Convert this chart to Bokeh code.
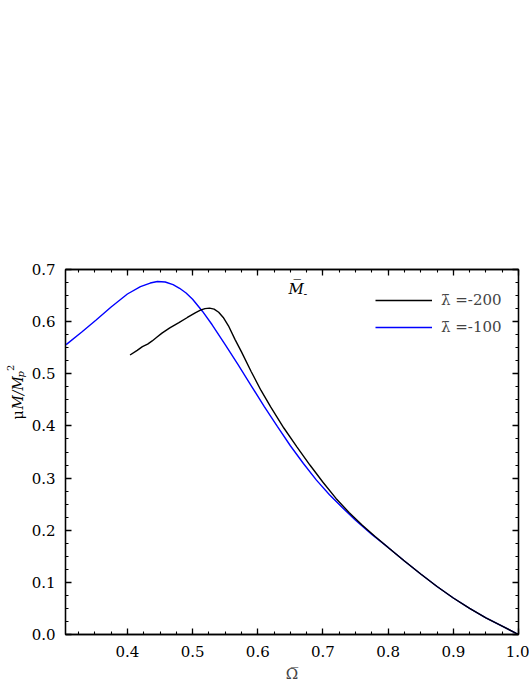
import math
import numpy as np
from bokeh.plotting import figure
from bokeh.layouts import row
from bokeh.models import (LinearAxis, FixedTicker, NumeralTickFormatter, CustomJSTickFormatter,
                          Label, Legend, LegendItem)
from bokeh.embed import file_html
from bokeh.resources import INLINE

# ---- data ----
omega_l200 = [0.404, 0.415, 0.423, 0.431, 0.438, 0.445, 0.453, 0.465, 0.479, 0.492, 0.504, 0.512,
              0.519, 0.526, 0.533, 0.540, 0.547, 0.555, 0.565, 0.575, 0.590, 0.605, 0.620, 0.640,
              0.660, 0.680, 0.700, 0.720, 0.740, 0.760, 0.780, 0.800, 0.825, 0.850, 0.875, 0.900,
              0.925, 0.950, 0.975, 1.000]
mass_l200 = [0.536, 0.545, 0.552, 0.557, 0.563, 0.570, 0.578, 0.588, 0.598, 0.608, 0.617, 0.622,
             0.625, 0.626, 0.624, 0.618, 0.608, 0.592, 0.566, 0.542, 0.504, 0.468, 0.436, 0.396,
             0.360, 0.325, 0.292, 0.261, 0.234, 0.210, 0.188, 0.167, 0.141, 0.116, 0.092, 0.070,
             0.050, 0.032, 0.016, 0.000]

omega_l100 = [0.306, 0.330, 0.352, 0.375, 0.400, 0.420, 0.435, 0.446, 0.458, 0.470, 0.480, 0.490,
              0.500, 0.515, 0.530, 0.550, 0.570, 0.590, 0.610, 0.630, 0.650, 0.670, 0.690, 0.710,
              0.730, 0.750, 0.775, 0.800, 0.825, 0.850, 0.875, 0.900, 0.925, 0.950, 0.975, 1.000]
mass_l100 = [0.556, 0.580, 0.603, 0.628, 0.653, 0.667, 0.674, 0.677, 0.676, 0.671, 0.664, 0.655,
             0.643, 0.620, 0.594, 0.556, 0.517, 0.477, 0.437, 0.399, 0.362, 0.328, 0.296, 0.268,
             0.243, 0.219, 0.192, 0.167, 0.141, 0.116, 0.092, 0.070, 0.050, 0.032, 0.016, 0.000]

series_labels = ["\u03bb\u0304 =-200", "\u03bb\u0304 =-100"]
series_colors = ["#000000", "#0000ff"]

x_ticks = [0.4, 0.5, 0.6, 0.7, 0.8, 0.9, 1.0]
y_ticks = [0.0, 0.1, 0.2, 0.3, 0.4, 0.5, 0.6, 0.7]
x_minor = [round(v, 3) for v in np.arange(0.325, 1.0001, 0.025)]
y_minor = [round(v, 3) for v in np.arange(0.0, 0.7001, 0.025)]

FONT = "DejaVu Serif"

H = 685
STRIP_W = 28

p = figure(width=529 - STRIP_W, height=H, x_range=(0.305, 1.0), y_range=(0.0, 0.7),
           output_backend="svg", toolbar_location=None,
           min_border_left=63 - STRIP_W, min_border_right=11, min_border_top=269, min_border_bottom=50)
p.background_fill_color = "white"
p.border_fill_color = "white"
p.grid.visible = False
p.outline_line_color = "black"
p.outline_line_width = 1.3


def style_axis(ax, ticks, minor, show_labels):
    ax.ticker = FixedTicker(ticks=ticks, minor_ticks=minor)
    ax.major_tick_in = 6
    ax.major_tick_out = 0
    ax.minor_tick_in = 3
    ax.minor_tick_out = 0
    ax.major_tick_line_width = 1.3
    ax.minor_tick_line_width = 1.1
    ax.major_tick_line_color = "black"
    ax.minor_tick_line_color = "black"
    ax.axis_line_color = "black"
    ax.axis_line_width = 1.3
    ax.major_label_text_font = FONT
    ax.major_label_text_font_size = "15px"
    ax.major_label_text_color = "black"
    if show_labels:
        ax.formatter = NumeralTickFormatter(format="0.0")
    else:
        ax.formatter = CustomJSTickFormatter(code="return ''")


style_axis(p.xaxis[0], x_ticks, x_minor, True)
style_axis(p.yaxis[0], y_ticks, y_minor, True)
p.xaxis[0].major_label_standoff = 11
p.yaxis[0].major_label_standoff = 10
p.xaxis[0].axis_label = "\u03a9\u0305"
p.xaxis[0].axis_label_text_font = FONT
p.xaxis[0].axis_label_text_font_style = "normal"
p.xaxis[0].axis_label_text_font_size = "15px"
p.xaxis[0].axis_label_standoff = 5

top = LinearAxis()
style_axis(top, x_ticks, x_minor, False)
p.add_layout(top, "above")
right = LinearAxis()
style_axis(right, y_ticks, y_minor, False)
p.add_layout(right, "right")

r_blue = p.line(omega_l100, mass_l100, line_color=series_colors[1], line_width=1.4)
r_black = p.line(omega_l200, mass_l200, line_color=series_colors[0], line_width=1.4)

legend = Legend(items=[LegendItem(label=series_labels[0], renderers=[r_black]),
                       LegendItem(label=series_labels[1], renderers=[r_blue])],
                location=(310, 297), padding=0, margin=0, spacing=7,
                glyph_width=57, glyph_height=20, label_height=20, label_standoff=9,
                label_text_font=FONT, label_text_font_size="15px",
                border_line_color=None, background_fill_alpha=0)
p.add_layout(legend)


def lab(fig, text, x, y, size="15px", style="normal", angle=0.0, align="left"):
    fig.add_layout(Label(x=x, y=y, x_units="screen", y_units="screen", text=text,
                         text_font=FONT, text_font_size=size, text_font_style=style,
                         angle=angle, text_align=align, text_baseline="alphabetic",
                         text_color="black"))

# panel title inside the frame
lab(p, "M\u0305", 223, 346, style="italic")
lab(p, "-", 238, 341, size="11px")

# y-axis title drawn in a narrow strip at the left
strip = figure(width=STRIP_W, height=H, x_range=(0, STRIP_W), y_range=(0, H),
               output_backend="svg", toolbar_location=None,
               x_axis_location=None, y_axis_location=None,
               min_border=0, outline_line_color=None)
strip.grid.visible = False
strip.background_fill_color = "white"
strip.border_fill_color = "white"
up = math.pi / 2
lab(strip, "\u03bc", 17.3, 215, size="14px", angle=up)
lab(strip, "M/M", 17.3, 225, size="14px", style="italic", angle=up)
lab(strip, "p", 19.5, 257, size="10px", style="italic", angle=up)
lab(strip, "2", 10, 263.5, size="10px", angle=up)

layout = row(strip, p, spacing=0)
open("out.html", "w").write(file_html(layout, INLINE))
